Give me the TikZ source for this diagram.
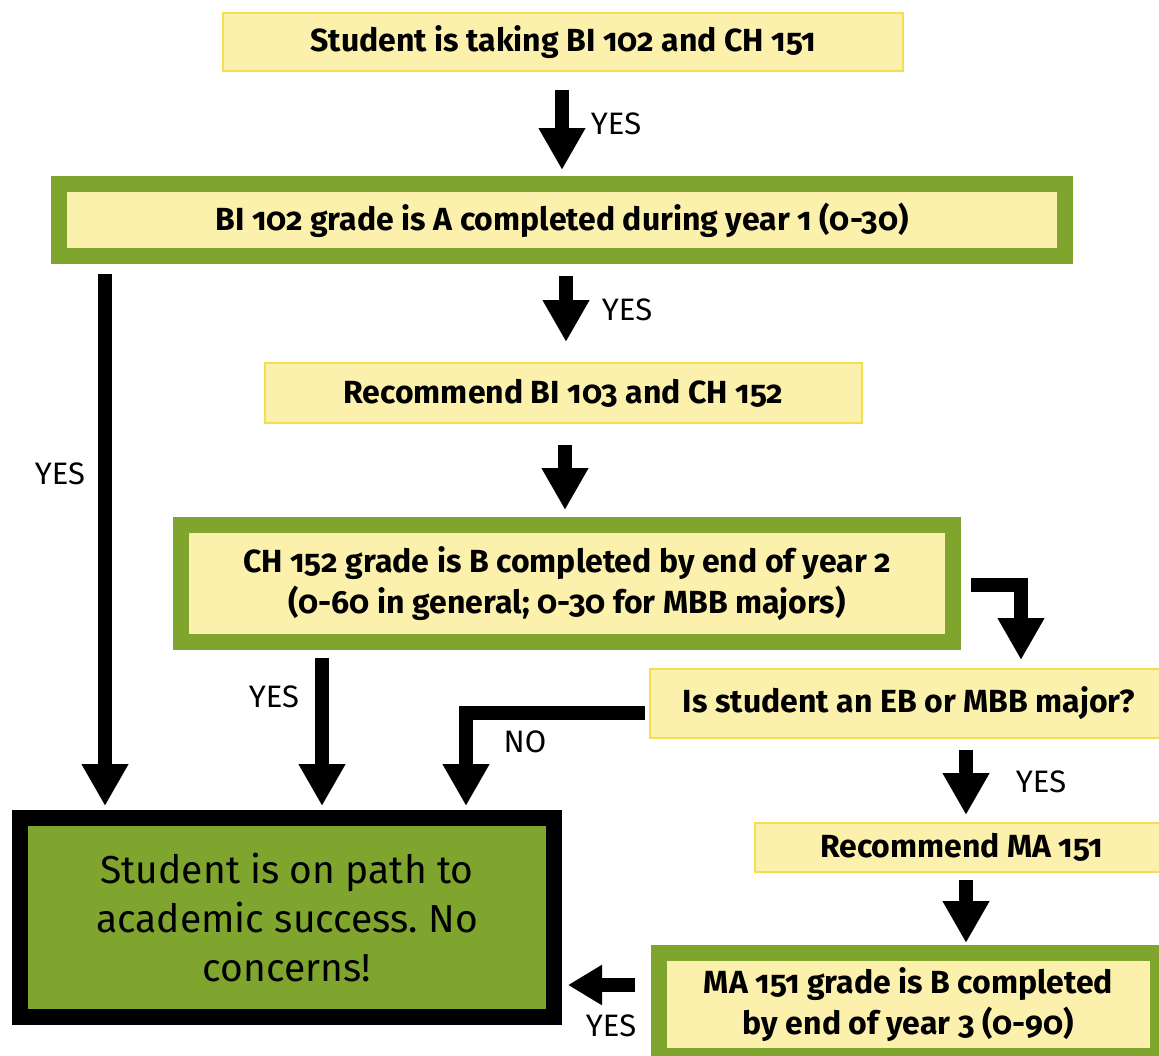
\documentclass[tikz,border=0pt]{standalone}
\usepackage{fontspec}
\setmainfont{Fira Sans}[Numbers=OldStyle]
\usetikzlibrary{arrows.meta,calc}
\frenchspacing
\definecolor{grn}{HTML}{7FA52F}
\definecolor{ylw}{HTML}{FBF1AD}
\definecolor{ylwb}{HTML}{F3DF4E}
\tikzset{
  ybox/.style={draw=ylwb,fill=ylw,line width=2pt,inner sep=0pt,font=\bfseries\fontsize{32}{41}\selectfont,align=center},
  gbox/.style={draw=grn,fill=ylw,line width=16pt,inner sep=0pt,font=\bfseries\fontsize{32}{41}\selectfont,align=center},
  fbox/.style={draw=black,fill=grn,line width=16pt,inner sep=0pt,font=\fontsize{39}{49}\selectfont,align=center},
  arr/.style={line width=14pt,-{Triangle[width=44pt,length=42pt]}},
  sarr/.style={line width=14pt,-{Triangle[width=38pt,length=34pt]}},
  lbl/.style={font=\fontsize{31}{32}\selectfont,inner sep=0pt}
}
\begin{document}
\begin{tikzpicture}[x=1pt,y=-1pt]
\useasboundingbox[fill=white] (0,0) rectangle (1159,1055);
\node[ybox,minimum width=680pt,minimum height=58pt] (b1) at (563,42) {Student is taking BI 102 and CH 151};
\node[gbox,minimum width=1006pt,minimum height=72pt] (b2) at (562,220) {BI 102 grade is A completed during year 1 (0-30)};
\node[ybox,minimum width=597pt,minimum height=60pt] (b3) at (563.5,393) {Recommend BI 103 and CH 152};
\node[gbox,minimum width=772pt,minimum height=117pt] (b4) at (567,583.5) {CH 152 grade is B completed by end of year 2\\(0-60 in general; 0-30 for MBB majors)};
\node[ybox,minimum width=518pt,minimum height=69pt] (b5) at (909,703.5) {Is student an EB or MBB major?};
\node[ybox,minimum width=413pt,minimum height=49pt] (b6) at (961.5,847.5) {Recommend MA 151};
\node[gbox,minimum width=499pt,minimum height=103pt] (b7) at (908.5,1004.5) {MA 151 grade is B completed\\by end of year 3 (0-90)};
\node[fbox,minimum width=534pt,minimum height=199pt] (fin) at (287,917.5) {Student is on path to\\academic success. No\\concerns!};

\draw[arr] ($(b1.south)+(-1,18)$) -- ($(b2.north)+(0,-6)$);
\draw[arr] ($(b2.south)+(4,12)$) -- ($(b3.north)+(2.5,-20)$);
\draw[arr] ($(b3.south)+(1.5,21)$) -- ($(b4.north)+(-2,-7)$);
\draw[arr] ($(b2.south west)+(54,10)$) -- ($(fin.north west)+(93,-4)$);
\draw[arr] ($(b4.south)+(-245,8)$) -- ($(fin.north east)+(-240,-4)$);
\draw[arr] ($(b4.east)+(10,1)$) -| ($(b5.north west)+(372,-8)$);
\draw[arr] ($(b5.west)+(-4,9)$) -| ($(fin.north east)+(-96,-4)$);
\draw[arr] ($(b5.south)+(57,11)$) -- ($(b6.north)+(4.5,-7)$);
\draw[arr] ($(b6.south)+(4.5,7)$) -- ($(b7.north)+(57.5,-2)$);
\draw[sarr] ($(b7.west)+(-16,-19.5)$) -- ($(fin.east)+(6,67.5)$);

\node[lbl] (l1) at (616,124) {YES};
\node[lbl] (l2) at (627,310) {YES};
\node[lbl] (l3) at (60,474) {YES};
\node[lbl] (l4) at (274,697) {YES};
\node[lbl] (l5) at (525,742) {NO};
\node[lbl] (l6) at (1041,782) {YES};
\node[lbl] (l7) at (611,1026) {YES};
\end{tikzpicture}
\end{document}
